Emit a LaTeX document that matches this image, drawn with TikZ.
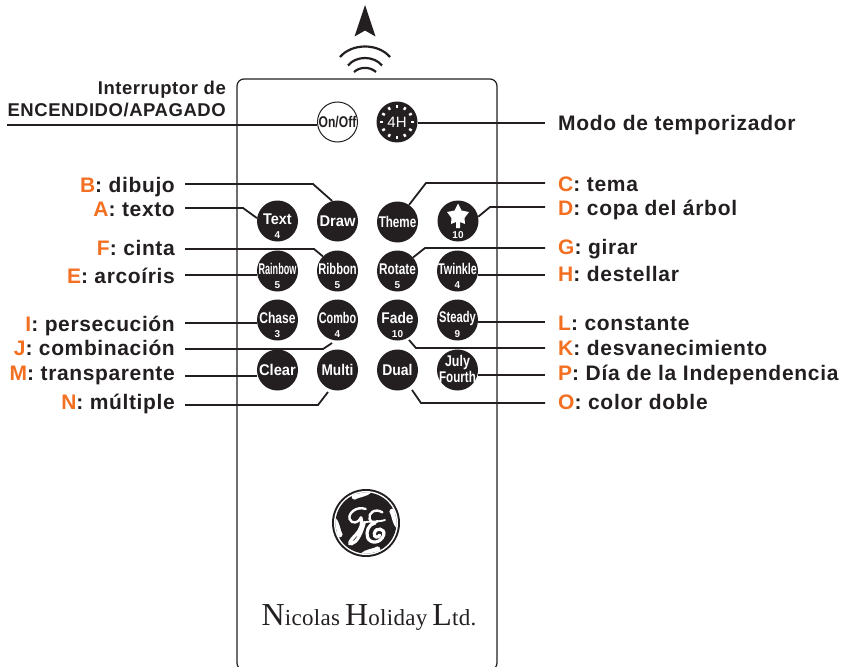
\documentclass[tikz,border=0pt]{standalone}
\usepackage{fontspec}
\usetikzlibrary{calc}
\setmainfont{Liberation Sans}
\newfontfamily\labfont{Liberation Sans}[LetterSpace=3]
\newfontfamily\labfontw{Liberation Sans}[LetterSpace=3.4]
\newfontfamily\btnfont{Liberation Sans}
\newfontfamily\brandfont{Liberation Serif}[LetterSpace=1.5]
\definecolor{ink}{HTML}{231F20}
\definecolor{orng}{HTML}{F36F21}
\tikzset{
  wire/.style={draw=ink,line width=1.8pt,line join=miter},
  btnbody/.style={circle,fill=ink,draw=none,minimum size=41pt,inner sep=0pt},
  btntext/.style={text=white,inner sep=0pt,font=\btnfont\fontsize{15.5}{15.5}\selectfont\bfseries},
  btnnum/.style={text=white,inner sep=0pt,font=\btnfont\fontsize{10}{10}\selectfont\bfseries},
  lableft/.style={anchor=base east,inner sep=0pt,text=ink,font=\labfont\fontsize{21}{22}\selectfont\bfseries},
  labright/.style={anchor=base west,inner sep=0pt,text=ink,font=\labfontw\fontsize{21}{22}\selectfont\bfseries},
  labtop/.style={anchor=base east,inner sep=0pt,text=ink,font=\labfont\fontsize{18.5}{20}\selectfont\bfseries},
}
\newcommand{\keyb}[6]{% name,x,y,xscale,text,num
  \node[btnbody] (#1) at (#2,#3) {};
  \ifx\relax#6\relax
    \node[btntext] (#1-t) at (#2,#3) {\scalebox{#4}[1]{#5}};
  \else
    \node[btntext] (#1-t) at (#2,#3-2) {\scalebox{#4}[1]{#5}};
    \node[btnnum] (#1-n) at (#2,#3+14) {#6};
  \fi}
\newcommand{\ltr}[1]{\textcolor{orng}{#1}}
\begin{document}
\begin{tikzpicture}[x=1pt,y=-1pt]
\useasboundingbox (0,0) rectangle (842,666);
% arrow and waves
\fill[ink] (365,5) -- (375.5,36.5) -- (365,30.5) -- (354.5,36.5) -- cycle;
\draw[ink,line width=2.2pt] (340,57) .. controls (352,43) and (378,43) .. (390,57);
\draw[ink,line width=2.2pt] (348,65.5) .. controls (356,55.5) and (374,55.5) .. (382,65.5);
\draw[ink,line width=2.2pt] (354,72) .. controls (360,66.5) and (370,66.5) .. (376,72);
% body
\draw[ink,line width=1.2pt,rounded corners=7pt] (237,79) rectangle (497,670);
% top buttons
\node[circle,draw=ink,fill=white,line width=1pt,minimum size=40pt,inner sep=0pt] (onoff) at (337.5,122) {};
\node[inner sep=0pt,text=ink,font=\btnfont\fontsize{15.5}{15.5}\selectfont\bfseries] (onoff-t) at (337.5,122) {\scalebox{.78}[1]{On/Off}};
\node[btnbody] (timer) at (397,122) {};
\foreach \a in {0,30,...,330}
  \draw[white,line width=2.4pt] ($(timer.center)+(\a:14pt)$) -- ($(timer.center)+(\a:17pt)$);
\node[text=white,inner sep=0pt,font=\btnfont\fontsize{15}{15}\selectfont] (timer-t) at (397,122) {4H};
% rows
\keyb{text}{277.5}{221}{.93}{Text}{4}
\keyb{draw}{337.5}{221}{.95}{Draw}{}
\keyb{theme}{397.5}{222}{.75}{Theme}{}
\keyb{star}{458}{221}{1}{}{10}
\fill[white] (458,203.5) -- (461.5,210.5) -- (469,212) -- (464.5,218) -- (465,224) -- (460,222) -- (460,228) -- (456,228) -- (456,222) -- (451,224) -- (451.5,218) -- (447,212) -- (454.5,210.5) -- cycle;
\keyb{rainbow}{277.5}{271}{.585}{Rainbow}{5}
\keyb{ribbon}{337.5}{271}{.72}{Ribbon}{5}
\keyb{rotate}{397.5}{271}{.76}{Rotate}{5}
\keyb{twinkle}{457.5}{271}{.70}{Twinkle}{4}
\keyb{chase}{277.5}{320}{.78}{Chase}{3}
\keyb{combo}{337.5}{320}{.70}{Combo}{4}
\keyb{fade}{397.5}{320}{.89}{Fade}{10}
\keyb{steady}{457.5}{320}{.72}{Steady}{9}
\keyb{clear}{277.5}{370}{.95}{Clear}{}
\keyb{multi}{337.5}{370}{.88}{Multi}{}
\keyb{dual}{397.5}{370}{.9}{Dual}{}
\node[btnbody] (july) at (457.5,370) {};
\node[btntext] (july-a) at (457.5,362) {\scalebox{.8}[1]{July}};
\node[btntext] (july-b) at (457.5,377) {\scalebox{.75}[1]{Fourth}};
% left labels
\node[labtop] (lsw1) at (226,95) {Interruptor de};
\node[labtop] (lsw2) at (226,117) {ENCENDIDO/APAGADO};
\node[lableft] (lB) at (175,192) {\ltr{B}: dibujo};
\node[lableft] (lA) at (175,216) {\ltr{A}: texto};
\node[lableft] (lF) at (175,255) {\ltr{F}: cinta};
\node[lableft] (lE) at (175,283) {\ltr{E}: arcoíris};
\node[lableft] (lI) at (175,331) {\ltr{I}: persecución};
\node[lableft] (lJ) at (175,355) {\ltr{J}: combinación};
\node[lableft] (lM) at (175,380) {\ltr{M}: transparente};
\node[lableft] (lN) at (175,409) {\ltr{N}: múltiple};
% right labels
\node[labright] (lT) at (558,130) {Modo de temporizador};
\node[labright] (lC) at (558,191) {\ltr{C}: tema};
\node[labright] (lD) at (558,215) {\ltr{D}: copa del árbol};
\node[labright] (lG) at (558,254) {\ltr{G}: girar};
\node[labright] (lH) at (558,281) {\ltr{H}: destellar};
\node[labright] (lL) at (558,330) {\ltr{L}: constante};
\node[labright] (lK) at (558,355) {\ltr{K}: desvanecimiento};
\node[labright] (lP) at (558,380) {\ltr{P}: Día de la Independencia};
\node[labright] (lO) at (558,409) {\ltr{O}: color doble};
% free ends
\foreach \n/\y in {cB/184,cA/208,cF/249,cE/275,cI/323,cJ/349,cM/376,cN/405}
  \coordinate (\n) at (185,\y);
\foreach \n/\y in {cT/123,cC/183,cD/207,cG/248,cH/275,cL/322,cK/348,cP/375,cO/403}
  \coordinate (\n) at (545,\y);
\coordinate (cS) at (7,125);
% connectors
\draw[wire] (cS) -- (onoff.west |- cS);
\draw[wire] (cT) -- (timer.east |- cT);
\draw[wire] (cB) -- (313,184) -- (draw.105);
\draw[wire] (cA) -- (243,208) -- (text.172);
\draw[wire] (cF) -- (314,249) -- (ribbon.135);
\draw[wire] (cE) -- (rainbow.west |- cE);
\draw[wire] (cI) -- (chase.west |- cI);
\draw[wire] (cJ) -- (323,349) -- ([shift={(-5.5,23)}]combo.center);
\draw[wire] (cM) -- (clear.west |- cM);
\draw[wire] (cN) -- (318,405) -- ([shift={(-9.5,22)}]multi.center);
\draw[wire] (cC) -- (426,183) -- (theme.56);
\draw[wire] (cD) -- (490,207) -- (star.12);
\draw[wire] (cG) -- (425,248) -- (rotate.41);
\draw[wire] (cH) -- (twinkle.east |- cH);
\draw[wire] (cL) -- (steady.east |- cL);
\draw[wire] (cK) -- (416,348) -- ([shift={(11.5,20)}]fade.center);
\draw[wire] (cP) -- (july.east |- cP);
\draw[wire] (cO) -- (421,403) -- ([shift={(14.5,20)}]dual.center);
% GE logo
\coordinate (ge) at (366,523);
\fill[ink] (ge) circle (34);
\fill[white] (ge) circle (32);
\fill[ink] (ge) circle (30.5);
\foreach \a in {62,-28,-118,152}
  \fill[white] ($(ge)+(\a:31)$) .. controls ($(ge)+(\a+12:31)$) and ($(ge)+(\a+24:31)$) .. ($(ge)+(\a+38:31)$) .. controls ($(ge)+(\a+30:26)$) and ($(ge)+(\a+12:27)$) .. ($(ge)+(\a+2:26)$) .. controls ($(ge)+(\a-2:27)$) and ($(ge)+(\a-2:29)$) .. cycle;
\begin{scope}[shift={(325,485)},x=.3333pt,y=-.3333pt]
\draw[white,line width=2.4pt,line cap=round] (122,72) .. controls (95,62) and (68,85) .. (74,102) .. controls (80,118) and (100,115) .. (108,98);
\draw[white,line width=3.2pt,line cap=round] (108,98) .. controls (112,115) and (110,130) .. (92,150) .. controls (72,170) and (70,178) .. (80,176) .. controls (95,172) and (108,150) .. (118,112);
\draw[white,line width=2.4pt,line cap=round] (172,82) .. controls (150,68) and (128,85) .. (134,102) .. controls (138,115) and (152,115) .. (158,108);
\draw[white,line width=3.2pt,line cap=round] (150,114) .. controls (130,118) and (122,140) .. (128,158) .. controls (136,178) and (168,175) .. (176,150) .. controls (182,130) and (152,125) .. (148,145) .. controls (146,158) and (160,160) .. (164,150);
\draw[white,line width=1.8pt,line cap=round] (118,112) .. controls (130,108) and (160,112) .. (180,105);
\end{scope}
% brand
\node[anchor=base,inner sep=0pt,text=ink,font=\brandfont] (brand) at (369,625) {\fontsize{32}{32}\selectfont N\fontsize{23}{32}\selectfont icolas\hspace{5pt}\fontsize{32}{32}\selectfont H\fontsize{23}{32}\selectfont oliday\hspace{5pt}\fontsize{32}{32}\selectfont L\fontsize{23}{32}\selectfont td.};
\end{tikzpicture}
\end{document}
